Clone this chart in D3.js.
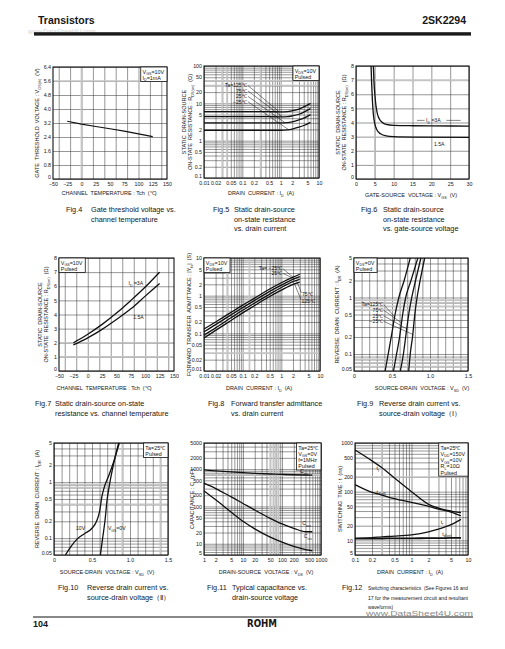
<!DOCTYPE html>
<html><head><meta charset="utf-8">
<script src="https://cdn.jsdelivr.net/npm/d3@7/dist/d3.min.js"></script>
<style>
html,body{margin:0;padding:0;background:#fff;}
svg{display:block;}
text{white-space:pre;}
</style></head><body>
<svg id="page" width="505" height="649"></svg>
<script>
// ================= DATA =================
const headerTexts=["Transistors","2SK2294"];
const watermark="www.DataSheet4U.com";
const pageNumber="104";
const brand="ROHM";

// Fig.4
const fig4Tch=[-25,0,25,50,75,100,125];
const fig4Vth=[3.30,3.14,3.00,2.87,2.74,2.58,2.42];
const fig4XTicks=[-50,-25,0,25,50,75,100,125,150];
const fig4XLabels=["−50","−25","0","25","50","75","100","125","150"];
const fig4YTicks=[0,0.8,1.6,2.4,3.2,4.0,4.8,5.6,6.4];
const fig4YLabels=["0","0.8","1.6","2.4","3.2","4.0","4.8","5.6","6.4"];

// Fig.5
const fig5Id=[0.01,0.05,0.2,0.5,1,1.5,2,3,4,6];
const fig5R125=[6.0,6.0,6.0,6.0,5.9,6.0,6.3,7.0,8.0,10.0];
const fig5R75=[4.4,4.4,4.4,4.4,4.35,4.4,4.6,5.1,5.8,7.2];
const fig5R25=[3.0,3.0,3.0,3.0,3.0,3.05,3.2,3.6,4.0,5.0];
const fig5Rm25=[1.9,1.9,1.9,1.9,1.9,1.95,2.05,2.3,2.55,3.1];
const curTicks=[0.01,0.02,0.05,0.1,0.2,0.5,1,2,5,10];
const curLabels=["0.01","0.02","0.05","0.1","0.2","0.5","1","2","5","10"];
const fig5YTicks=[0.1,0.2,0.5,1,2,5,10,20,50,100];
const fig5YLabels=["0.1","0.2","0.5","1","2","5","10","20","50","100"];
const fig5TaLabels=["Ta=125℃","75℃","25℃","−25℃"];

// Fig.6
const fig6Vgs3=[4.6,4.75,5.0,5.3,5.7,6.2,7,8,10,15,20,30];
const fig6R3=[8,7,6,5.2,4.6,4.25,4.0,3.87,3.8,3.77,3.76,3.75];
const fig6Vgs15=[4.0,4.15,4.35,4.6,5.0,5.5,6.5,8,10,15,30];
const fig6R15=[8,6.8,5.6,4.6,3.9,3.5,3.2,3.05,3.0,2.97,2.95];
const fig6XTicks=[0,5,10,15,20,25,30];
const fig6XLabels=["0","5","10","15","20","25","30"];
const fig6YTicks=[0,1,2,3,4,5,6,7,8];
const fig6YLabels=["0","1","2","3","4","5","6","7","8"];

// Fig.7
const fig7Tch=[-25,0,25,50,75,100,125];
const fig7R3=[2.0,2.6,3.3,4.1,5.0,5.95,7.0];
const fig7R15=[1.85,2.35,2.95,3.65,4.4,5.3,6.2];

// Fig.8
const fig8Id=[0.01,0.02,0.05,0.1,0.2,0.5,1,2,3];
const fig8Ym25=[0.13,0.2,0.36,0.56,0.85,1.5,2.2,3.1,3.7];
const fig8Y25=[0.11,0.17,0.31,0.48,0.74,1.3,1.9,2.7,3.2];
const fig8Y75=[0.09,0.14,0.26,0.41,0.63,1.1,1.65,2.35,2.7];
const fig8Y125=[0.075,0.12,0.22,0.35,0.54,0.95,1.4,2.0,2.3];
const fig8YTicks=[0.01,0.02,0.05,0.1,0.2,0.5,1,2,5,10];
const fig8YLabels=["0.01","0.02","0.05","0.1","0.2","0.5","1","2","5","10"];

// Fig.9
const fig9Idr=[0.05,0.1,0.2,0.5,1,2,5];
const fig9V125=[0.41,0.45,0.49,0.54,0.59,0.66,0.74];
const fig9V75=[0.52,0.56,0.60,0.64,0.68,0.75,0.84];
const fig9V25=[0.61,0.65,0.68,0.72,0.76,0.81,0.88];
const fig9Vm25=[0.72,0.74,0.77,0.80,0.83,0.87,0.93];
const vsdTicks=[0,0.5,1.0,1.5];
const vsdLabels=["0","0.5","1.0","1.5"];
const idrTicks=[0.05,0.1,0.2,0.5,1,2,5];
const idrLabels=["0.05","0.1","0.2","0.5","1","2","5"];
const fig9TaLabels=["Ta=125℃","75℃","25℃","−25℃"];

// Fig.10
const fig10Idr0=[0.05,0.1,0.2,0.5,0.9,2,5];
const fig10V0=[0.61,0.64,0.67,0.70,0.73,0.78,0.85];
const fig10Idr10=[0.05,0.07,0.095,0.12,0.15,0.2,0.3,0.55,0.8,1.3,2.2,5];
const fig10V10=[0.15,0.22,0.30,0.40,0.50,0.56,0.60,0.63,0.66,0.72,0.78,0.86];

// Fig.11
const fig11Vds=[1,2,5,10,20,50,100,200,400,600];
const fig11Ciss=[950,900,840,800,770,740,720,705,695,690];
const fig11Coss=[420,300,180,120,80,48,34,26,21,21];
const fig11Crss=[260,150,70,40,25,15,11,8.5,7,6.5];
const fig11XTicks=[1,2,5,10,20,50,100,200,500,1000];
const fig11XLabels=["1","2","5","10","20","50","100","200","500","1000"];
const fig11YTicks=[5,10,20,50,100,200,500,1000,2000,5000];
const fig11YLabels=["5","10","20","50","100","200","500","1000","2000","5000"];

// Fig.12
const fig12Id=[0.1,0.2,0.3,0.5,1,2,3,5,7.5];
const fig12Tf=[720,430,310,190,100,55,46,40,37];
const fig12Tdoff=[140,97,85,72,60,50,44,38,32];
const fig12Tr=[11,11.4,11.8,12.2,13,15,17,21,27];
const fig12Tdon=[10.8,10.9,10.9,11,11,11.1,11.1,11.2,11.2];
const fig12XTicks=[0.1,0.2,0.5,1,2,5,10];
const fig12XLabels=["0.1","0.2","0.5","1","2","5","10"];
const fig12YTicks=[5,10,20,50,100,200,500,1000];
const fig12YLabels=["5","10","20","50","100","200","500","1000"];

// captions
const cap4=["Gate threshold voltage vs.","channel temperature"];
const cap5=["Static drain-source","on-state resistance","vs. drain current"];
const cap6=["Static drain-source","on-state resistance","vs. gate-source voltage"];
const cap7=["Static drain-source on-state","resistance vs. channel temperature"];
const cap8=["Forward transfer admittance","vs. drain current"];
const cap9=["Reverse drain current vs.","source-drain voltage（Ⅰ）"];
const cap10=["Reverse drain current vs.","source-drain voltage（Ⅱ）"];
const cap11=["Typical capacitance vs.","drain-source voltage"];
const cap12=["Switching characteristics  (See Figures 16 and","17 for the measurement circuit and resultant","waveforms)"];

// ================= DRAWING =================
const svg=d3.select('#page');
const FF='"Liberation Sans", Arial, Helvetica, sans-serif';
const INK='#161616';
const TICK_FS=5.3, TITLE_FS=5.5, ANN_FS=5.1, CAP_FS=7.3;

function rich(t,str,fs){
  const re=/_\{([^}]*)\}/g; let last=0,m; const parts=[];
  while((m=re.exec(str))){ if(m.index>last) parts.push([str.slice(last,m.index),0]); parts.push([m[1],1]); last=re.lastIndex; }
  if(last<str.length) parts.push([str.slice(last),0]);
  let cur=0;
  parts.forEach(([s,sub])=>{
    const tgt=sub?fs*0.28:0;
    const ts=t.append('tspan').text(s);
    if(tgt!==cur) ts.attr('dy',tgt-cur);
    if(sub) ts.attr('font-size',fs*0.68);
    cur=tgt;
  });
  return t;
}
function txt(g,x,y,str,fs,anchor,o={}){
  const t=g.append('text').attr('x',x).attr('y',y).attr('font-size',fs)
    .attr('font-family',o.ff||FF).attr('fill',o.fill||INK).attr('text-anchor',anchor||'start');
  if(o.weight) t.attr('font-weight',o.weight);
  rich(t,str,fs);
  return t;
}

function panel(c){
  const [L,R,T,B]=c.box;
  const x=(c.xLog?d3.scaleLog():d3.scaleLinear()).domain(c.xDomain).range([L,R]);
  const y=(c.yLog?d3.scaleLog():d3.scaleLinear()).domain(c.yDomain).range([B,T]);
  const g=svg.append('g');
  const strip=s=>{s.attr('font-family',null).attr('font-size',null).attr('fill',null);s.select('.domain').remove();};
  const xg=c.xGrid||x.ticks(c.xGridN||10);
  const yg=c.yGrid||y.ticks(c.yGridN||10);
  g.append('g').attr('transform',`translate(0,${B})`)
    .call(d3.axisBottom(x).tickValues(xg).tickSize(-(B-T)).tickFormat(()=>''))
    .call(strip).call(s=>s.selectAll('line').attr('stroke','#2e2e2e').attr('stroke-width',0.5));
  g.append('g').attr('transform',`translate(${L},0)`)
    .call(d3.axisLeft(y).tickValues(yg).tickSize(-(R-L)).tickFormat(()=>''))
    .call(strip).call(s=>s.selectAll('line').attr('stroke','#2e2e2e').attr('stroke-width',0.5));
  (c.grayX||[]).forEach(v=>g.append('line').attr('x1',x(v)).attr('x2',x(v)).attr('y1',T+0.6).attr('y2',B-0.6).attr('stroke','#c4c4c4').attr('stroke-width',1.7));
  (c.grayY||[]).forEach(v=>g.append('line').attr('x1',L+0.6).attr('x2',R-0.6).attr('y1',y(v)).attr('y2',y(v)).attr('stroke','#c4c4c4').attr('stroke-width',1.7));
  g.append('rect').attr('x',L).attr('y',T).attr('width',R-L).attr('height',B-T)
    .attr('fill','none').attr('stroke','#111').attr('stroke-width',1.1);
  g.append('g').attr('transform',`translate(0,${B})`)
    .call(d3.axisBottom(x).tickValues(c.xTicks).tickSize(0).tickPadding(2.9).tickFormat((d,i)=>c.xLabels[i]))
    .call(strip).call(s=>s.selectAll('text').attr('font-size',TICK_FS).attr('font-family',FF).attr('fill',INK));
  g.append('g').attr('transform',`translate(${L},0)`)
    .call(d3.axisLeft(y).tickValues(c.yTicks).tickSize(0).tickPadding(c.yPad||2).tickFormat((d,i)=>c.yLabels[i]))
    .call(strip).call(s=>{
      s.selectAll('text').attr('font-size',TICK_FS).attr('font-family',FF).attr('fill',INK);
      // lift the lowest label a little so it clears the x labels at the corner
      s.selectAll('.tick').filter(d=>d===c.yDomain[0]).select('text').attr('dy','-0.05em');
    });
  txt(g,c.xTitleX,c.xTitleY,c.xTitle,TITLE_FS,'middle');
  const cy=(T+B)/2;
  c.yTitle.forEach((line,i)=>{
    const t=g.append('text').attr('transform',`translate(${c.yTitleX[i]},${cy}) rotate(-90)`)
      .attr('text-anchor','middle').attr('font-size',TITLE_FS).attr('font-family',FF).attr('fill',INK);
    rich(t,line,TITLE_FS);
  });
  return {x,y,g,L,R,T,B};
}
function curve(P,xs,ys,w,lin){
  P.g.append('path').datum(d3.zip(xs,ys))
    .attr('d',d3.line().x(d=>P.x(d[0])).y(d=>P.y(d[1])).curve(lin?d3.curveLinear:d3.curveMonotoneX))
    .attr('fill','none').attr('stroke','#111').attr('stroke-width',w||1.3).attr('stroke-linejoin','round');
}
function legend(P,lines,corner){
  const fs=5.4, lh=6.2, pad=1.8;
  const gg=P.g.append('g');
  const texts=lines.map(s=>txt(gg,0,0,s,fs,'start'));
  const w=d3.max(texts,t=>t.node().getComputedTextLength())+pad*2+1;
  const h=lines.length*lh+pad*1.2;
  const x0=corner==='tr'?P.R-w:P.L, y0=P.T;
  gg.insert('rect','text').attr('x',x0).attr('y',y0).attr('width',w).attr('height',h)
    .attr('fill','#fff').attr('stroke','#111').attr('stroke-width',0.8);
  texts.forEach((t,i)=>t.attr('x',x0+pad).attr('y',y0+pad+lh*(i+1)-1.3));
}
function ann(P,xv,yv,str,anchor,dx,dy){
  return txt(P.g,P.x(xv)+(dx||0),P.y(yv)+(dy||0),str,ANN_FS,anchor||'start');
}
function lead(P,a,b,c2,d,dy1){
  P.g.append('line').attr('x1',P.x(a)).attr('y1',P.y(b)+(dy1||0)).attr('x2',P.x(c2)).attr('y2',P.y(d))
    .attr('stroke','#111').attr('stroke-width',0.5);
}
function caption(fx,tx,ys,num,lines,o={}){
  txt(svg,fx,ys[0],num,CAP_FS,'start');
  return lines.map((s,i)=>txt(svg,tx,ys[i],s,o.fs||CAP_FS,'start'));
}

// ----- header -----
txt(svg,28,33.5,watermark,6.4,'start',{fill:'#d4d4d4'});
txt(svg,38,24,headerTexts[0],10.5,'start',{weight:'bold'});
txt(svg,466,24,headerTexts[1],10.5,'end',{weight:'bold'});
svg.append('rect').attr('x',34).attr('y',32.2).attr('width',437).attr('height',3.4).attr('fill','#1a1a1a');

// ----- Fig.4 -----
const P4=panel({box:[53,167,67,179],xDomain:[-50,150],yDomain:[0,6.4],xGridN:8,yGrid:fig4YTicks,
  xTicks:fig4XTicks,xLabels:fig4XLabels,yTicks:fig4YTicks,yLabels:fig4YLabels,grayX:[0],grayY:[5.6],
  xTitle:"CHANNEL  TEMPERATURE : Tch  (℃)",xTitleX:109,xTitleY:195,
  yTitle:["GATE  THRESHOLD  VOLTAGE : V_{GS(th)}  (V)"],yTitleX:[39]});
curve(P4,fig4Tch,fig4Vth,1.2,true);
legend(P4,["V_{GS}=10V","I_{D}=1mA"],'tr');

// ----- Fig.5 -----
const P5=panel({box:[204,319,66,178],xLog:true,yLog:true,xDomain:[0.01,10],yDomain:[0.1,100],
  xTicks:curTicks,xLabels:curLabels,yTicks:fig5YTicks,yLabels:fig5YLabels,grayX:[0.03,0.04,0.3],grayY:[30,40],
  xTitle:"DRAIN  CURRENT : I_{D}  (A)",xTitleX:261,xTitleY:195,
  yTitle:["STATIC  DRAIN-SOURCE","ON-STATE  RESISTANCE : R_{DS(on)}  (Ω)"],yTitleX:[186,192]});
curve(P5,fig5Id,fig5R125); curve(P5,fig5Id,fig5R75); curve(P5,fig5Id,fig5R25); curve(P5,fig5Id,fig5Rm25);
legend(P5,["V_{DS}=10V","Pulsed"],'tr');
[[0.9,6.0],[1.1,4.35],[1.3,3.02],[1.6,1.98]].forEach((v,i)=>{
  ann(P5,0.13,30,fig5TaLabels[i],'end',0,1.8+i*5.4);
  lead(P5,0.14,30,v[0],v[1],i*5.4);
});

// ----- Fig.6 -----
const P6=panel({box:[356,469,66,179],xDomain:[0,30],yDomain:[0,8],xGridN:6,yGridN:8,
  xTicks:fig6XTicks,xLabels:fig6XLabels,yTicks:fig6YTicks,yLabels:fig6YLabels,grayX:[5],grayY:[7],
  xTitle:"GATE-SOURCE  VOLTAGE : V_{GS}  (V)",xTitleX:411,xTitleY:197,
  yTitle:["STATIC  DRAIN-SOURCE","ON-STATE  RESISTANCE : R_{DS(on)}  (Ω)"],yTitleX:[340,346]});
curve(P6,fig6Vgs3,fig6R3); curve(P6,fig6Vgs15,fig6R15);
ann(P6,18.6,4.15,"I_{D} =3A",'start',0,2);
lead(P6,16.2,4.15,18.2,4.15); lead(P6,24.0,4.15,27.8,4.15);
ann(P6,20.7,2.45,"1.5A",'start',0,2);

// ----- Fig.7 -----
const P7=panel({box:[59,174,258,371],xDomain:[-50,150],yDomain:[0,8],xGridN:8,yGridN:8,
  xTicks:fig4XTicks,xLabels:fig4XLabels,yTicks:fig6YTicks,yLabels:fig6YLabels,grayY:[1,2],
  xTitle:"CHANNEL  TEMPERATURE : Tch  (℃)",xTitleX:104,xTitleY:390,
  yTitle:["STATIC  DRAIN-SOURCE","ON-STATE  RESISTANCE : R_{DS(on)}  (Ω)"],yTitleX:[42,48]});
curve(P7,fig7Tch,fig7R3); curve(P7,fig7Tch,fig7R15);
legend(P7,["V_{GS}=10V","Pulsed"],'tl');
ann(P7,71,6.2,"I_{D} =3A",'start',0,2);
ann(P7,79,3.85,"1.5A",'start',0,2);

// ----- Fig.8 -----
const P8=panel({box:[204,320,258,371],xLog:true,yLog:true,xDomain:[0.01,10],yDomain:[0.01,10],
  xTicks:curTicks,xLabels:curLabels,yTicks:fig8YTicks,yLabels:fig8YLabels,grayX:[0.04,0.15],grayY:[0.03],
  xTitle:"DRAIN  CURRENT : I_{D}  (A)",xTitleX:259,xTitleY:390,
  yTitle:["FORWARD  TRANSFER  ADMITTANCE : |Y_{fs}|  (S)"],yTitleX:[191]});
curve(P8,fig8Id,fig8Ym25); curve(P8,fig8Id,fig8Y25); curve(P8,fig8Id,fig8Y75); curve(P8,fig8Id,fig8Y125);
legend(P8,["V_{DS}=10V","Pulsed"],'tl');
ann(P8,1.05,5.4,"Ta= −25℃",'end',0,2); lead(P8,1.1,5.2,2.0,3.1);
ann(P8,1.05,4.0,"25℃",'end',0,2.5); lead(P8,1.1,3.9,2.2,2.8);
ann(P8,3.4,1.1,"75℃",'start',0,2); lead(P8,3.3,1.2,2.5,2.45);
ann(P8,3.3,0.72,"125℃",'start',0,2); lead(P8,3.2,0.8,2.2,2.05);

// ----- Fig.9 -----
const P9=panel({box:[354,468,258,371],yLog:true,xDomain:[0,1.5],yDomain:[0.05,5],xGridN:15,
  xTicks:vsdTicks,xLabels:vsdLabels,yTicks:idrTicks,yLabels:idrLabels,grayY:[0.06,0.07,0.08,0.6,0.7,0.8,0.9],
  xTitle:"SOURCE-DRAIN  VOLTAGE : V_{SD}  (V)",xTitleX:422,xTitleY:390,
  yTitle:["REVERSE  DRAIN  CURRENT : I_{DR}  (A)"],yTitleX:[339]});
curve(P9,fig9V125,fig9Idr); curve(P9,fig9V75,fig9Idr); curve(P9,fig9V25,fig9Idr); curve(P9,fig9Vm25,fig9Idr);
legend(P9,["V_{DS}=0V","Pulsed"],'tl');
[[0.54,0.45],[0.62,0.36],[0.69,0.28],[0.78,0.22]].forEach((v,i)=>{
  ann(P9,0.385,0.75,fig9TaLabels[i],'end',0,1.8+i*5.6);
  lead(P9,0.39,0.75,v[0],v[1],i*5.6);
});

// ----- Fig.10 -----
const P10=panel({box:[54,168,443,555],yLog:true,xDomain:[0,1.5],yDomain:[0.05,5],xGridN:15,
  xTicks:vsdTicks,xLabels:vsdLabels,yTicks:idrTicks,yLabels:idrLabels,grayX:[0.9,1.4],grayY:[0.4,0.8,0.9],
  xTitle:"SOURCE-DRAIN  VOLTAGE : V_{SD}  (V)",xTitleX:107,xTitleY:574,
  yTitle:["REVERSE  DRAIN  CURRENT : I_{DR}  (A)"],yTitleX:[39]});
curve(P10,fig10V0,fig10Idr0); curve(P10,fig10V10,fig10Idr10);
legend(P10,["Ta=25℃","Pulsed"],'tr');
ann(P10,0.29,0.15,"10V",'start',0,2);
ann(P10,0.71,0.15,"V_{GS}=0V",'start',0,2);

// ----- Fig.11 -----
const P11=panel({box:[204,321,443,555],xLog:true,yLog:true,xDomain:[1,1000],yDomain:[5,5000],
  xTicks:fig11XTicks,xLabels:fig11XLabels,yTicks:fig11YTicks,yLabels:fig11YLabels,grayX:[50,60,70,80],grayY:[700],
  xTitle:"DRAIN-SOURCE  VOLTAGE : V_{DS}  (V)",xTitleX:266,xTitleY:574,
  yTitle:["CAPACITANCE : C  (pF)"],yTitleX:[194]});
curve(P11,fig11Vds,fig11Ciss); curve(P11,fig11Vds,fig11Coss); curve(P11,fig11Vds,fig11Crss);
legend(P11,["Ta=25℃","V_{GS}=0V","f=1MHz","Pulsed"],'tr');
ann(P11,290,830,"C_{iss}",'start',0,1);
ann(P11,330,33,"C_{oss}",'start',0,1);
ann(P11,360,15,"C_{rss}",'start',0,1);

// ----- Fig.12 -----
const P12=panel({box:[355,468,443,555],xLog:true,yLog:true,xDomain:[0.1,10],yDomain:[5,1000],
  xTicks:fig12XTicks,xLabels:fig12XLabels,yTicks:fig12YTicks,yLabels:fig12YLabels,grayX:[0.3],grayY:[200],
  xTitle:"DRAIN  CURRENT : I_{D}  (A)",xTitleX:410,xTitleY:574,
  yTitle:["SWITCHING  TIME : t  (ns)"],yTitleX:[342]});
curve(P12,fig12Id,fig12Tf); curve(P12,fig12Id,fig12Tdoff); curve(P12,fig12Id,fig12Tr); curve(P12,fig12Id,fig12Tdon,1.8);
legend(P12,["Ta=25℃","V_{DD}=150V","V_{GS}=10V","R_{L}=10Ω","Pulsed"],'tr');
ann(P12,0.24,300,"t_{f}",'start',0,2);
ann(P12,0.24,100,"t_{d(off)}",'start',0,2);
ann(P12,3.3,24,"t_{r}",'start',0,2);
ann(P12,3.5,13.5,"t_{d(on)}",'start',0,2);

// ----- captions -----
caption(66,91,[212,222],"Fig.4",cap4);
caption(213,234,[212,222,231],"Fig.5",cap5);
caption(361,383,[212,222,231],"Fig.6",cap6);
caption(35,55,[406,416],"Fig.7",cap7);
caption(208,231,[406,416],"Fig.8",cap8);
caption(357,379,[406,416],"Fig.9",cap9);
caption(58,87,[590,600],"Fig.10",cap10);
caption(207,232,[590,600],"Fig.11",cap11);
const c12=caption(342,368,[590,599.5,608.5],"Fig.12",cap12,{fs:6.2});
c12[0].attr('textLength',100).attr('lengthAdjust','spacingAndGlyphs');
c12[1].attr('textLength',100).attr('lengthAdjust','spacingAndGlyphs');
c12[2].attr('textLength',25).attr('lengthAdjust','spacingAndGlyphs');

// ----- footer -----
txt(svg,366,615.5,watermark,8,'start',{fill:'#8a8a8a'}).attr('textLength',107).attr('lengthAdjust','spacingAndGlyphs');
svg.append('line').attr('x1',33).attr('x2',473).attr('y1',617).attr('y2',617).attr('stroke','#111').attr('stroke-width',1);
txt(svg,33,627,pageNumber,9,'start',{weight:'bold'});
txt(svg,262,627,brand,10.5,'middle',{weight:'900',ff:'"DejaVu Sans", Arial, sans-serif'}).attr('textLength',30).attr('lengthAdjust','spacingAndGlyphs');
</script>
</body></html>
